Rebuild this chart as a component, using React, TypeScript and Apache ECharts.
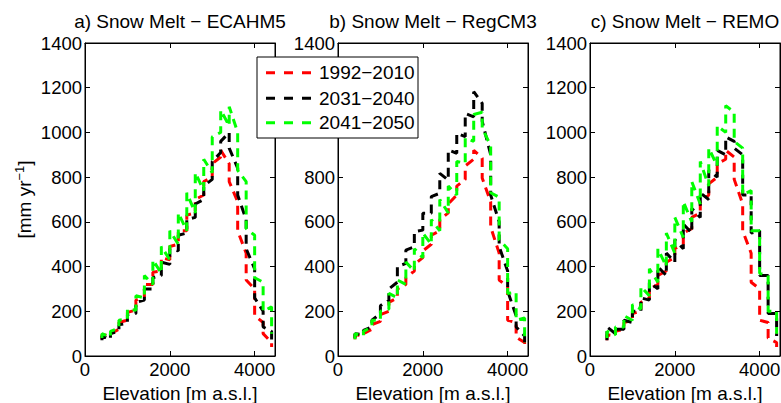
import React, { useEffect, useRef } from "react";
import * as echarts from "echarts";

// Elevation band edges [m a.s.l.]
const EDGES = [400, 600, 800, 1000, 1200, 1400, 1600, 1800, 2000, 2200, 2400, 2600, 2800, 3000, 3200, 3400, 3600, 3800, 4000, 4200, 4400];

const PERIODS = ["1992\u22122010", "2031\u22122040", "2041\u22122050"];
const PANEL_TITLES = ["a) Snow Melt \u2212 ECAHM5", "b) Snow Melt \u2212 RegCM3", "c) Snow Melt \u2212 REMO"];
const X_TICKS = [0, 2000, 4000];
const Y_TICKS = [0, 200, 400, 600, 800, 1000, 1200, 1400];
// tick labels of panel b hidden behind the legend box
const Y_TICKS_B = [0, 200, 400, 600, 800, 1400];

// Snow melt [mm/yr]: value arriving at each edge (IN) and value after the jump (OUT)
// Panel a) ECAHM5
const A_RED_IN = [75, 90, 120, 160, 205, 265, 320, 380, 430, 500, 560, 640, 720, 800, 890, 860, 690, 460, 300, 150, 60];
const A_RED_OUT = [95, 100, 150, 195, 250, 320, 375, 440, 490, 560, 630, 700, 780, 860, 920, 780, 560, 340, 180, 100, 40];
const A_BLK_IN = [70, 75, 110, 145, 190, 250, 300, 360, 410, 470, 550, 620, 700, 790, 910, 1000, 840, 610, 390, 200, 110];
const A_BLK_OUT = [90, 100, 140, 185, 240, 300, 350, 420, 480, 540, 610, 680, 760, 870, 960, 930, 720, 480, 260, 130, 50];
const A_GRN_IN = [80, 85, 125, 165, 205, 260, 320, 370, 430, 500, 560, 640, 740, 820, 1000, 1030, 1000, 780, 540, 330, 220];
const A_GRN_OUT = [100, 110, 160, 210, 270, 360, 430, 490, 560, 640, 730, 820, 880, 980, 1100, 1115, 830, 570, 350, 200, 100];

// Panel b) RegCM3
const B_RED_IN = [75, 90, 120, 155, 200, 260, 320, 380, 440, 500, 560, 640, 720, 790, 880, 885, 690, 460, 310, 150, 60];
const B_RED_OUT = [95, 100, 140, 185, 240, 300, 350, 410, 470, 540, 610, 680, 760, 850, 920, 796, 577, 340, 160, 85, 40];
const B_BLK_IN = [80, 95, 130, 190, 250, 330, 414, 489, 563, 638, 728, 787, 907, 981, 1070, 1130, 900, 600, 380, 180, 90];
const B_BLK_OUT = [100, 115, 160, 225, 300, 400, 474, 556, 638, 713, 817, 921, 996, 1085, 1182, 1050, 720, 490, 290, 130, 60];
const B_GRN_IN = [75, 90, 130, 160, 210, 260, 320, 380, 440, 500, 560, 640, 720, 863, 960, 1090, 940, 710, 480, 285, 170];
const B_GRN_OUT = [100, 110, 160, 200, 280, 340, 420, 480, 550, 610, 700, 760, 870, 975, 1080, 1020, 730, 520, 280, 160, 60];

// Panel c) REMO
const C_RED_IN = [70, 90, 120, 160, 200, 260, 320, 380, 440, 500, 570, 640, 720, 800, 880, 890, 680, 460, 300, 150, 60];
const C_RED_OUT = [95, 110, 150, 190, 240, 300, 360, 420, 480, 550, 620, 690, 770, 860, 920, 790, 560, 330, 160, 80, 40];
const C_BLK_IN = [70, 100, 120, 150, 200, 250, 300, 360, 420, 480, 550, 620, 700, 800, 900, 960, 900, 720, 560, 360, 190];
const C_BLK_OUT = [130, 120, 160, 200, 260, 330, 400, 460, 520, 590, 660, 730, 830, 920, 980, 930, 720, 550, 360, 190, 90];
const C_GRN_IN = [80, 95, 130, 160, 210, 270, 330, 400, 460, 530, 600, 680, 760, 850, 1000, 1090, 930, 740, 560, 360, 200];
const C_GRN_OUT = [110, 130, 180, 230, 310, 390, 480, 550, 620, 690, 780, 870, 930, 1030, 1120, 960, 720, 560, 370, 200, 100];

const COLORS = ["#ff0000", "#000000", "#00ff00"];
const FONT = "'Liberation Sans', Arial, Helvetica, sans-serif";

const PANELS = [
  [[A_RED_IN, A_RED_OUT], [A_BLK_IN, A_BLK_OUT], [A_GRN_IN, A_GRN_OUT]],
  [[B_RED_IN, B_RED_OUT], [B_BLK_IN, B_BLK_OUT], [B_GRN_IN, B_GRN_OUT]],
  [[C_RED_IN, C_RED_OUT], [C_BLK_IN, C_BLK_OUT], [C_GRN_IN, C_GRN_OUT]],
];

const GRID_LEFT = [85, 338, 590];
const GRID_W = 190;
const GRID_TOP = 43;
const GRID_H = 313;
const X_MAX = 4480;

function buildPath(inV: number[], outV: number[]) {
  const pts: number[][] = [];
  EDGES.forEach((e, i) => {
    pts.push([e, inV[i]]);
    pts.push([e, outV[i]]);
  });
  return pts;
}

const mkLine = () => ({ show: true, onZero: false, lineStyle: { color: "#000", width: 1 } });
const mkTick = () => ({ show: true, inside: true, length: 5, lineStyle: { color: "#000", width: 1 } });

export default function App() {
  const ref = useRef<HTMLDivElement>(null);
  useEffect(() => {
    if (!ref.current) return;
    const chart = echarts.init(ref.current, undefined, { renderer: "svg" });
    const grids: any[] = [];
    const xAxes: any[] = [];
    const yAxes: any[] = [];
    const series: any[] = [];
    const graphics: any[] = [];
    PANELS.forEach((panel, p) => {
      grids.push({
        left: GRID_LEFT[p], top: GRID_TOP, width: GRID_W, height: GRID_H,
        containLabel: false, outerBoundsMode: "none",
        show: true, borderColor: "#000", borderWidth: 1, backgroundColor: "transparent",
      });
      const yShown = p === 1 ? Y_TICKS_B : Y_TICKS;
      xAxes.push({
        type: "value", gridIndex: p, position: "bottom", min: 0, max: X_MAX, interval: 2000,
        axisLine: mkLine(), axisTick: mkTick(), splitLine: { show: false },
        axisLabel: {
          color: "#000", fontSize: 18.5, fontFamily: FONT, margin: 4,
          formatter: (v: number) => (X_TICKS.includes(v) ? String(v) : ""),
        },
        name: "Elevation [m a.s.l.]", nameLocation: "middle", nameGap: 27,
        nameTextStyle: { color: "#000", fontSize: 19, fontFamily: FONT },
      });
      xAxes.push({
        type: "value", gridIndex: p, position: "top", min: 0, max: X_MAX, interval: 2000,
        axisLine: mkLine(), axisTick: mkTick(), splitLine: { show: false }, axisLabel: { show: false },
      });
      yAxes.push({
        type: "value", gridIndex: p, position: "left", min: 0, max: 1400, interval: 200,
        axisLine: mkLine(), axisTick: mkTick(), splitLine: { show: false },
        axisLabel: {
          color: "#000", fontSize: 18.5, fontFamily: FONT, margin: 3,
          formatter: (v: number) => (yShown.includes(v) ? String(v) : ""),
        },
        ...(p === 0
          ? {
              name: "{a|[mm yr}{s|\u22121}{a|]}", nameLocation: "middle", nameGap: 50, nameRotate: 90,
              nameTextStyle: {
                color: "#000", fontFamily: FONT,
                rich: {
                  a: { fontSize: 19, fontFamily: FONT, color: "#000" },
                  s: { fontSize: 13, fontFamily: FONT, color: "#000", verticalAlign: "top", padding: [0, 0, 9, 0] },
                },
              },
            }
          : {}),
      });
      yAxes.push({
        type: "value", gridIndex: p, position: "right", min: 0, max: 1400, interval: 200,
        axisLine: mkLine(), axisTick: mkTick(), splitLine: { show: false }, axisLabel: { show: false },
      });
      panel.forEach((pair, s) => {
        series.push({
          name: PERIODS[s], type: "line", xAxisIndex: p * 2, yAxisIndex: p * 2,
          data: buildPath(pair[0], pair[1]), symbol: "none", silent: true,
          lineStyle: { color: COLORS[s], width: 3, type: [9, 6] },
          z: 2 + s,
        });
      });
      graphics.push({
        type: "text", x: GRID_LEFT[p] + GRID_W / 2, y: 21, z: 100,
        style: { text: PANEL_TITLES[p], fontSize: 19, fontFamily: FONT, fill: "#000", align: "center", verticalAlign: "middle" },
      });
    });
    // Legend box
    const LX = 257, LY = 57, LW = 161, LH = 81;
    const rows = [72.7, 98.3, 122.7];
    graphics.push({
      type: "rect", shape: { x: LX, y: LY, width: LW, height: LH }, z: 100,
      style: { fill: "#fff", stroke: "#000", lineWidth: 1 },
    });
    PERIODS.forEach((name, i) => {
      graphics.push({
        type: "line", z: 101, shape: { x1: 266, y1: rows[i], x2: 311, y2: rows[i] },
        style: { stroke: COLORS[i], lineWidth: 3, lineDash: [9, 9] },
      });
      graphics.push({
        type: "text", x: 319, y: rows[i], z: 101,
        style: { text: name, fontSize: 19, fontFamily: FONT, fill: "#000", align: "left", verticalAlign: "middle" },
      });
    });
    chart.setOption({
      animation: false,
      backgroundColor: "#fff",
      grid: grids,
      xAxis: xAxes,
      yAxis: yAxes,
      series,
      graphic: graphics,
    });
    return () => chart.dispose();
  }, []);
  return <div ref={ref} style={{ position: "fixed", left: 0, top: 0, width: 781, height: 403 }} />;
}
